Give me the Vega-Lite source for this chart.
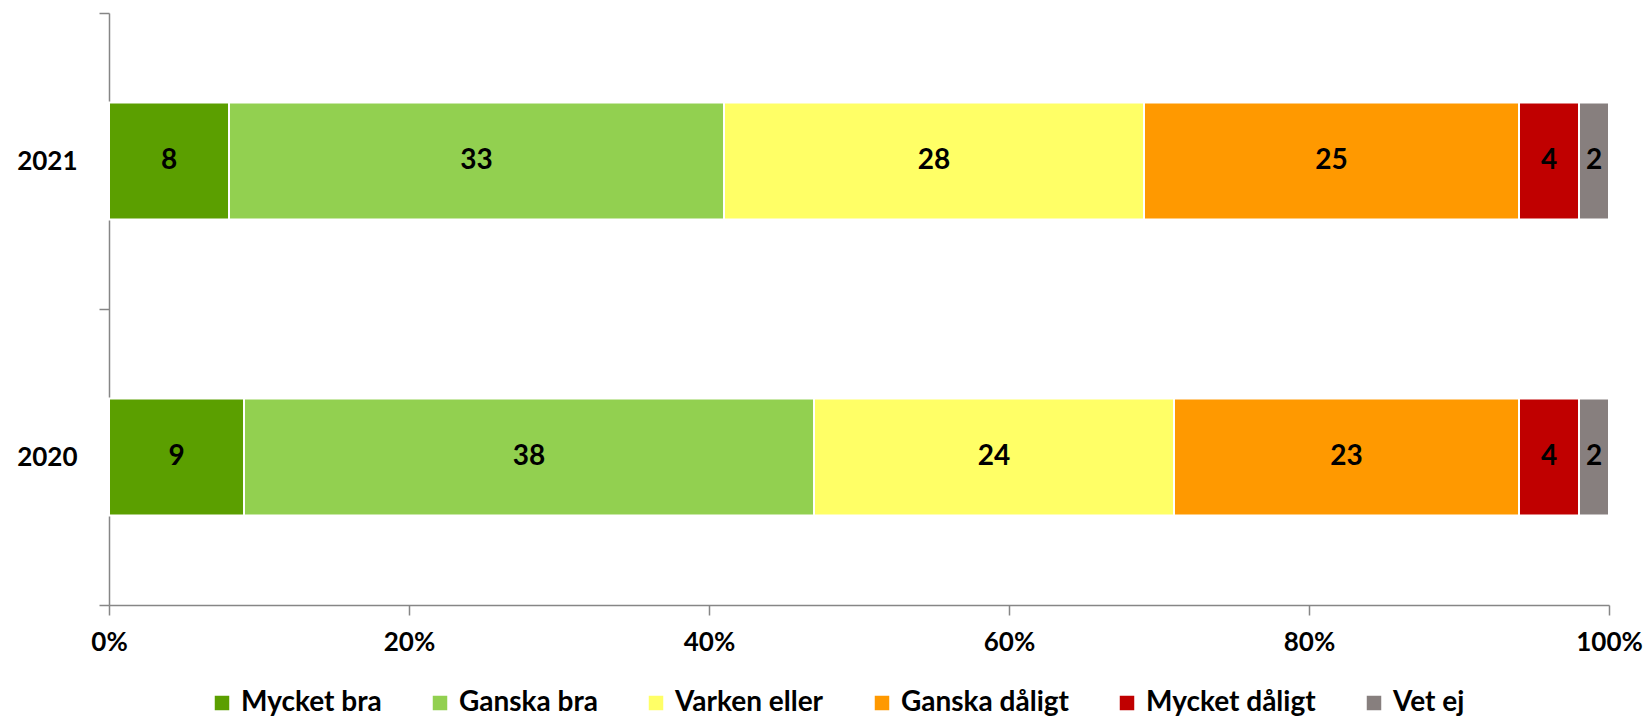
{
  "$schema": "https://vega.github.io/schema/vega-lite/v6.json",
  "width": 1500,
  "height": 592,
  "autosize": {"type": "none"},
  "padding": {"left": 109, "top": 13, "right": 40, "bottom": 118},
  "background": "white",
  "data": {
    "values": [
      {"year": "2021", "answer": "Mycket bra", "rank": 1, "value": 8},
      {"year": "2021", "answer": "Ganska bra", "rank": 2, "value": 33},
      {"year": "2021", "answer": "Varken eller", "rank": 3, "value": 28},
      {"year": "2021", "answer": "Ganska dåligt", "rank": 4, "value": 25},
      {"year": "2021", "answer": "Mycket dåligt", "rank": 5, "value": 4},
      {"year": "2021", "answer": "Vet ej", "rank": 6, "value": 2},
      {"year": "2020", "answer": "Mycket bra", "rank": 1, "value": 9},
      {"year": "2020", "answer": "Ganska bra", "rank": 2, "value": 38},
      {"year": "2020", "answer": "Varken eller", "rank": 3, "value": 24},
      {"year": "2020", "answer": "Ganska dåligt", "rank": 4, "value": 23},
      {"year": "2020", "answer": "Mycket dåligt", "rank": 5, "value": 4},
      {"year": "2020", "answer": "Vet ej", "rank": 6, "value": 2}
    ]
  },
  "config": {
    "view": {"stroke": null},
    "font": "Lato",
    "axis": {"grid": false, "domainColor": "#868686", "tickColor": "#868686", "domainWidth": 1.5, "tickWidth": 1.5, "labelFont": "Lato", "labelFontWeight": "bold", "labelFontSize": 26, "labelColor": "#000000", "title": null}
  },
  "encoding": {
    "y": {
      "field": "year", "type": "nominal", "sort": ["2021", "2020"],
      "scale": {"paddingInner": 0, "paddingOuter": 0},
      "axis": {"tickBand": "extent", "tickSize": 10, "labelPadding": 22, "title": null}
    },
    "order": {"field": "rank", "type": "quantitative"}
  },
  "layer": [
    {
      "mark": {"type": "bar", "stroke": "white", "strokeWidth": 2, "height": {"band": 0.395}},
      "encoding": {
        "x": {
          "field": "value", "type": "quantitative", "stack": "normalize",
          "scale": {"domain": [0, 1], "nice": false},
          "axis": {"values": [0, 0.2, 0.4, 0.6, 0.8, 1], "format": ".0%", "tickSize": 10, "labelPadding": 14, "title": null, "labelFlush": false}
        },
        "color": {
          "field": "answer", "type": "nominal",
          "scale": {
            "domain": ["Mycket bra", "Ganska bra", "Varken eller", "Ganska dåligt", "Mycket dåligt", "Vet ej"],
            "range": ["#5B9F00", "#92D050", "#FFFF66", "#FF9900", "#C00000", "#877F7E"]
          },
          "legend": {
            "title": null, "orient": "none", "direction": "horizontal", "columns": 6,
            "legendX": 99, "legendY": 676,
            "symbolType": "square", "symbolSize": 210, "symbolStrokeWidth": 0,
            "labelFont": "Lato", "labelFontWeight": "bold", "labelFontSize": 28, "labelColor": "#000000",
            "columnPadding": 44, "labelOffset": 5, "labelLimit": 400
          }
        }
      }
    },
    {
      "mark": {"type": "text", "font": "Lato", "fontWeight": "bold", "fontSize": 28, "color": "#000000", "baseline": "middle", "align": "center"},
      "encoding": {
        "x": {"field": "value", "type": "quantitative", "stack": "normalize", "bandPosition": 0.5},
        "text": {"field": "value", "type": "quantitative"}
      }
    }
  ]
}
